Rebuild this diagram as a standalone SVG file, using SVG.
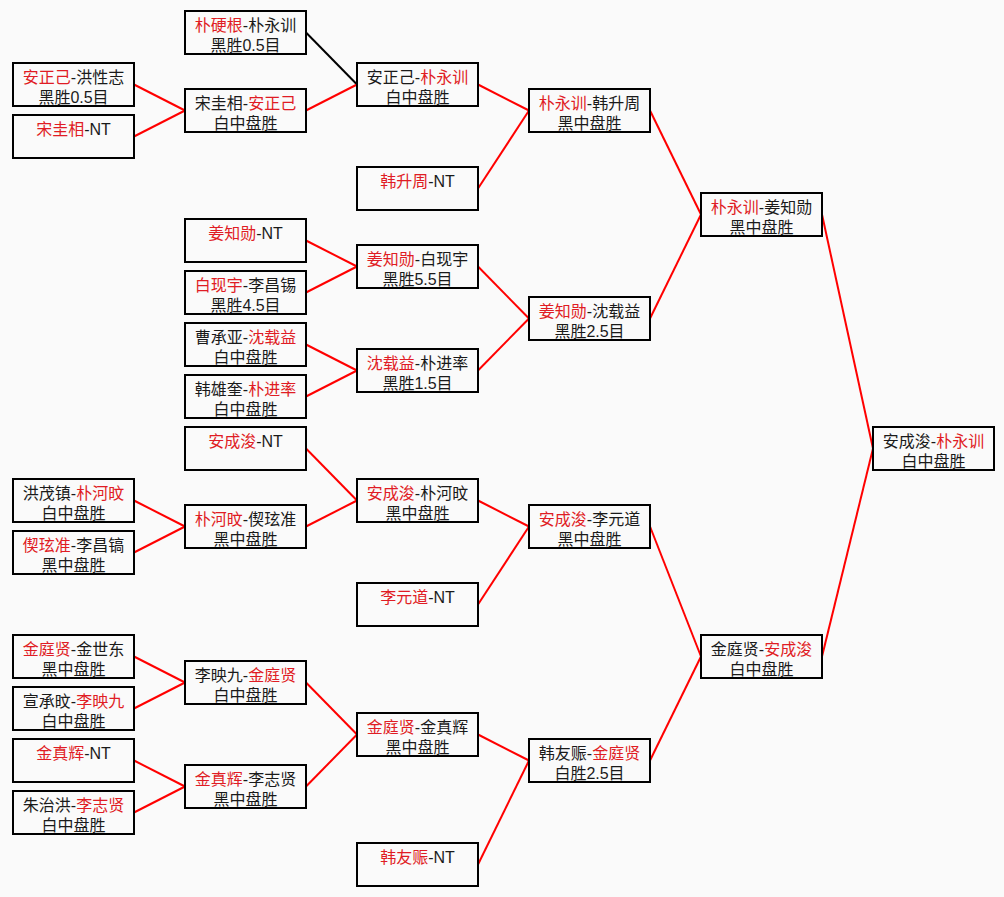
<svg xmlns="http://www.w3.org/2000/svg" width="1004" height="897" viewBox="0 0 1004 897" lang="zh-CN" xml:lang="zh-CN">
<style>
.bg{fill:#fafafa}
.node rect{fill:none;stroke:#000;stroke-width:2}
.node text{font-family:"Liberation Sans","Noto Sans CJK SC",sans-serif;font-size:16px;fill:#1a1a1a;text-anchor:middle}
.node .r{fill:#e01c24}
#connectors line{stroke:#ff0000;stroke-width:2}
#connectors line.k{stroke:#000}
</style>
<rect class="bg" x="0" y="0" width="1004" height="897"/>
<g id="connectors">
<line x1="134" y1="84.5" x2="185" y2="110.5"/>
<line x1="134" y1="136.5" x2="185" y2="110.5"/>
<line class="k" x1="306" y1="32.5" x2="357" y2="84.5"/>
<line x1="306" y1="110.5" x2="357" y2="84.5"/>
<line x1="478" y1="84.5" x2="529" y2="110.5"/>
<line x1="478" y1="188.5" x2="529" y2="110.5"/>
<line x1="306" y1="240.5" x2="357" y2="266.5"/>
<line x1="306" y1="292.5" x2="357" y2="266.5"/>
<line x1="306" y1="344.5" x2="357" y2="370.5"/>
<line x1="306" y1="396.5" x2="357" y2="370.5"/>
<line x1="478" y1="266.5" x2="529" y2="318.5"/>
<line x1="478" y1="370.5" x2="529" y2="318.5"/>
<line x1="650" y1="110.5" x2="701" y2="214.5"/>
<line x1="650" y1="318.5" x2="701" y2="214.5"/>
<line x1="822" y1="214.5" x2="873" y2="448.5"/>
<line x1="306" y1="448.5" x2="357" y2="500.5"/>
<line x1="134" y1="500.5" x2="185" y2="526.5"/>
<line x1="134" y1="552.5" x2="185" y2="526.5"/>
<line x1="306" y1="526.5" x2="357" y2="500.5"/>
<line x1="478" y1="500.5" x2="529" y2="526.5"/>
<line x1="478" y1="604.5" x2="529" y2="526.5"/>
<line x1="134" y1="656.5" x2="185" y2="682.5"/>
<line x1="134" y1="708.5" x2="185" y2="682.5"/>
<line x1="134" y1="760.5" x2="185" y2="786.5"/>
<line x1="134" y1="812.5" x2="185" y2="786.5"/>
<line x1="306" y1="682.5" x2="357" y2="734.5"/>
<line x1="306" y1="786.5" x2="357" y2="734.5"/>
<line x1="478" y1="734.5" x2="529" y2="760.5"/>
<line x1="478" y1="864.5" x2="529" y2="760.5"/>
<line x1="650" y1="526.5" x2="701" y2="656.5"/>
<line x1="650" y1="760.5" x2="701" y2="656.5"/>
<line x1="822" y1="656.5" x2="873" y2="448.5"/>
</g>
<g id="nodes">
<g id="n0-62" class="node"><rect x="13" y="63" width="121" height="43"/><text x="73.5" y="83"><tspan class="r">安正己</tspan>-洪性志<tspan x="73.5" y="103">黑胜0.5目</tspan></text></g>
<g id="n0-114" class="node"><rect x="13" y="115" width="121" height="43"/><text x="73.5" y="135"><tspan class="r">宋圭相</tspan>-NT</text></g>
<g id="n0-478" class="node"><rect x="13" y="479" width="121" height="43"/><text x="73.5" y="499">洪茂镇-<tspan class="r">朴河旼</tspan><tspan x="73.5" y="519">白中盘胜</tspan></text></g>
<g id="n0-530" class="node"><rect x="13" y="531" width="121" height="43"/><text x="73.5" y="551"><tspan class="r">偰玹准</tspan>-李昌镐<tspan x="73.5" y="571">黑中盘胜</tspan></text></g>
<g id="n0-634" class="node"><rect x="13" y="635" width="121" height="43"/><text x="73.5" y="655"><tspan class="r">金庭贤</tspan>-金世东<tspan x="73.5" y="675">黑中盘胜</tspan></text></g>
<g id="n0-686" class="node"><rect x="13" y="687" width="121" height="43"/><text x="73.5" y="707">宣承旼-<tspan class="r">李映九</tspan><tspan x="73.5" y="727">白中盘胜</tspan></text></g>
<g id="n0-738" class="node"><rect x="13" y="739" width="121" height="43"/><text x="73.5" y="759"><tspan class="r">金真辉</tspan>-NT</text></g>
<g id="n0-790" class="node"><rect x="13" y="791" width="121" height="43"/><text x="73.5" y="811">朱治洪-<tspan class="r">李志贤</tspan><tspan x="73.5" y="831">白中盘胜</tspan></text></g>

<g id="n1-10" class="node"><rect x="185" y="11" width="121" height="43"/><text x="245.5" y="31"><tspan class="r">朴硬根</tspan>-朴永训<tspan x="245.5" y="51">黑胜0.5目</tspan></text></g>
<g id="n1-88" class="node"><rect x="185" y="89" width="121" height="43"/><text x="245.5" y="109">宋圭相-<tspan class="r">安正己</tspan><tspan x="245.5" y="129">白中盘胜</tspan></text></g>
<g id="n1-218" class="node"><rect x="185" y="219" width="121" height="43"/><text x="245.5" y="239"><tspan class="r">姜知勋</tspan>-NT</text></g>
<g id="n1-270" class="node"><rect x="185" y="271" width="121" height="43"/><text x="245.5" y="291"><tspan class="r">白现宇</tspan>-李昌锡<tspan x="245.5" y="311">黑胜4.5目</tspan></text></g>
<g id="n1-322" class="node"><rect x="185" y="323" width="121" height="43"/><text x="245.5" y="343">曹承亚-<tspan class="r">沈载益</tspan><tspan x="245.5" y="363">白中盘胜</tspan></text></g>
<g id="n1-374" class="node"><rect x="185" y="375" width="121" height="43"/><text x="245.5" y="395">韩雄奎-<tspan class="r">朴进率</tspan><tspan x="245.5" y="415">白中盘胜</tspan></text></g>
<g id="n1-426" class="node"><rect x="185" y="427" width="121" height="43"/><text x="245.5" y="447"><tspan class="r">安成浚</tspan>-NT</text></g>
<g id="n1-504" class="node"><rect x="185" y="505" width="121" height="43"/><text x="245.5" y="525"><tspan class="r">朴河旼</tspan>-偰玹准<tspan x="245.5" y="545">黑中盘胜</tspan></text></g>
<g id="n1-660" class="node"><rect x="185" y="661" width="121" height="43"/><text x="245.5" y="681">李映九-<tspan class="r">金庭贤</tspan><tspan x="245.5" y="701">白中盘胜</tspan></text></g>
<g id="n1-764" class="node"><rect x="185" y="765" width="121" height="43"/><text x="245.5" y="785"><tspan class="r">金真辉</tspan>-李志贤<tspan x="245.5" y="805">黑中盘胜</tspan></text></g>

<g id="n2-62" class="node"><rect x="357" y="63" width="121" height="43"/><text x="417.5" y="83">安正己-<tspan class="r">朴永训</tspan><tspan x="417.5" y="103">白中盘胜</tspan></text></g>
<g id="n2-166" class="node"><rect x="357" y="167" width="121" height="43"/><text x="417.5" y="187"><tspan class="r">韩升周</tspan>-NT</text></g>
<g id="n2-244" class="node"><rect x="357" y="245" width="121" height="43"/><text x="417.5" y="265"><tspan class="r">姜知勋</tspan>-白现宇<tspan x="417.5" y="285">黑胜5.5目</tspan></text></g>
<g id="n2-348" class="node"><rect x="357" y="349" width="121" height="43"/><text x="417.5" y="369"><tspan class="r">沈载益</tspan>-朴进率<tspan x="417.5" y="389">黑胜1.5目</tspan></text></g>
<g id="n2-478" class="node"><rect x="357" y="479" width="121" height="43"/><text x="417.5" y="499"><tspan class="r">安成浚</tspan>-朴河旼<tspan x="417.5" y="519">黑中盘胜</tspan></text></g>
<g id="n2-582" class="node"><rect x="357" y="583" width="121" height="43"/><text x="417.5" y="603"><tspan class="r">李元道</tspan>-NT</text></g>
<g id="n2-712" class="node"><rect x="357" y="713" width="121" height="43"/><text x="417.5" y="733"><tspan class="r">金庭贤</tspan>-金真辉<tspan x="417.5" y="753">黑中盘胜</tspan></text></g>
<g id="n2-842" class="node"><rect x="357" y="843" width="121" height="43"/><text x="417.5" y="863"><tspan class="r">韩友赈</tspan>-NT</text></g>

<g id="n3-88" class="node"><rect x="529" y="89" width="121" height="43"/><text x="589.5" y="109"><tspan class="r">朴永训</tspan>-韩升周<tspan x="589.5" y="129">黑中盘胜</tspan></text></g>
<g id="n3-296" class="node"><rect x="529" y="297" width="121" height="43"/><text x="589.5" y="317"><tspan class="r">姜知勋</tspan>-沈载益<tspan x="589.5" y="337">黑胜2.5目</tspan></text></g>
<g id="n3-504" class="node"><rect x="529" y="505" width="121" height="43"/><text x="589.5" y="525"><tspan class="r">安成浚</tspan>-李元道<tspan x="589.5" y="545">黑中盘胜</tspan></text></g>
<g id="n3-738" class="node"><rect x="529" y="739" width="121" height="43"/><text x="589.5" y="759">韩友赈-<tspan class="r">金庭贤</tspan><tspan x="589.5" y="779">白胜2.5目</tspan></text></g>

<g id="n4-192" class="node"><rect x="701" y="193" width="121" height="43"/><text x="761.5" y="213"><tspan class="r">朴永训</tspan>-姜知勋<tspan x="761.5" y="233">黑中盘胜</tspan></text></g>
<g id="n4-634" class="node"><rect x="701" y="635" width="121" height="43"/><text x="761.5" y="655">金庭贤-<tspan class="r">安成浚</tspan><tspan x="761.5" y="675">白中盘胜</tspan></text></g>

<g id="n5-426" class="node"><rect x="873" y="427" width="121" height="43"/><text x="933.5" y="447">安成浚-<tspan class="r">朴永训</tspan><tspan x="933.5" y="467">白中盘胜</tspan></text></g>
</g>
</svg>
